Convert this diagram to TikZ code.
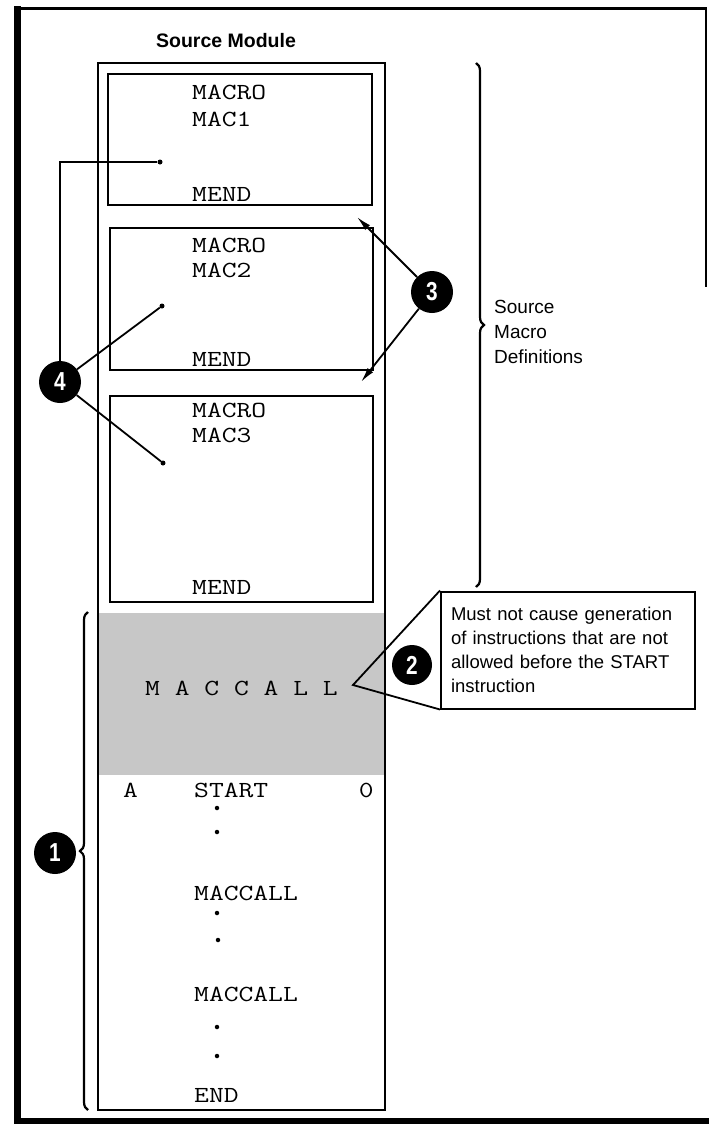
\documentclass[tikz,border=0pt]{standalone}
\usepackage{fontspec}
\usepackage{graphicx}
\usetikzlibrary{arrows.meta,decorations.pathreplacing}
\newfontfamily\labelfont{Liberation Sans}
\newcommand{\code}[1]{\scalebox{1.25}[1]{#1}}
\newcommand{\ballno}[1]{\scalebox{0.8}[1]{#1}}

\begin{document}
\begin{tikzpicture}[x=1pt,y=-1pt,>={Latex[length=15pt,width=7pt]},
  macbox/.style={draw,line width=2.5pt,inner sep=0pt},
  code/.style={anchor=base west,inner sep=0pt,font=\ttfamily\fontsize{23}{23}\selectfont},
  numball/.style={circle,fill=black,text=white,minimum size=42pt,inner sep=0pt,
    font=\labelfont\bfseries\fontsize{26}{26}\selectfont},
  conn/.style={line width=1.8pt},
  bullet/.style={circle,fill=black,inner sep=0pt,minimum size=5pt},
  callout/.style={draw,line width=2pt,minimum width=254pt,minimum height=117pt,
    text width=234pt,inner xsep=10pt,align=left,font=\labelfont\fontsize{18.5}{24}\selectfont}]
\useasboundingbox (0,0) rectangle (709,1127);
% Rahmen der Seite
\draw[line width=7pt] (17,6) -- (17,1124);
\draw[line width=6pt] (14,1121) -- (709,1121);
\draw[line width=3pt] (14,8) -- (706,8);
\draw[line width=2.5pt] (706,7) -- (706,287);
% Titel
\node[font=\labelfont\bfseries\fontsize{19.5}{19.5}\selectfont] (title) at (226,41) {Source Module};
% Quellmodul mit grauem Aufrufbereich
\draw[line width=2.2pt] (98,63) rectangle (385,1110);
\fill[black!22] (99,613) rectangle (384,775);
% Makrodefinitionen
\node[macbox,minimum width=264pt,minimum height=131pt] (box1) at (240,139.5) {};
\node[macbox,minimum width=263pt,minimum height=142pt] (box2) at (241.5,299) {};
\node[macbox,minimum width=263pt,minimum height=206pt] (box3) at (241.5,499) {};
\node[code] (mac1a) at (192,99)  {\code{MACRO}};
\node[code] (mac1b) at (192,126) {\code{MAC1}};
\node[code] (mac1c) at (192,201) {\code{MEND}};
\node[code] (mac2a) at (192,252) {\code{MACRO}};
\node[code] (mac2b) at (192,277) {\code{MAC2}};
\node[code] (mac2c) at (192,366) {\code{MEND}};
\node[code] (mac3a) at (192,417) {\code{MACRO}};
\node[code] (mac3b) at (192,442) {\code{MAC3}};
\node[code] (mac3c) at (192,594) {\code{MEND}};
% Quelltext nach den Definitionen
\node[code] (call0) at (145,695) {\code{M A C C A L L}};
\node[code] (lblA)  at (123,797) {\code{A}};
\node[code] (start) at (194,797) {\code{START}};
\node[code,anchor=base east] (zero) at (374,797) {\code{0}};
\node[code] (call1) at (194,900)  {\code{MACCALL}};
\node[code] (call2) at (194,1001) {\code{MACCALL}};
\node[code] (fin)   at (194,1102) {\code{END}};
\node[bullet,minimum size=4.5pt] (p1) at (217,808) {};
\node[bullet,minimum size=4.5pt] (p2) at (217,832) {};
\node[bullet,minimum size=4.5pt] (p3) at (217,913) {};
\node[bullet,minimum size=4.5pt] (p4) at (218,940) {};
\node[bullet,minimum size=4.5pt] (p5) at (217,1027) {};
\node[bullet,minimum size=4.5pt] (p6) at (217,1056) {};
% Klammern
\draw[line width=2.2pt,decorate,decoration={brace,amplitude=8pt}] (476,63) -- (476,587);
\node[anchor=west,align=left,inner sep=0pt,font=\labelfont\fontsize{19}{25}\selectfont]
  (defs) at (494,332) {Source\\Macro\\Definitions};
\draw[line width=2.2pt,decorate,decoration={brace,amplitude=8pt,aspect=0.52}] (88,1110) -- (88,612);
% Nummern
\node[numball] (n1) at (55,853)  {\ballno{1}};
\node[numball,minimum size=40pt] (n2) at (412,665) {\ballno{2}};
\node[numball] (n3) at (432,292) {\ballno{3}};
\node[numball] (n4) at (60,382)  {\ballno{4}};
% 2: Hinweis zum Makroaufruf
\node[callout] (note) at (568,650) {Must not cause generation of instructions that are not allowed before the START instruction};
\coordinate (callend) at (353,685);
\draw[conn] (note.north west) -- (callend) -- (note.south west);
% 3: Pfeile in die Luecken
\coordinate (gap1) at (357,217);
\coordinate (gap2) at (361,382);
\draw[conn,->] (n3) -- (gap1);
\draw[conn,->] (n3) -- (gap2);
% 4: Verbindungen in die Definitionen
\node[bullet] (d1) at (160,162) {};
\node[bullet] (d2) at (162,306) {};
\node[bullet] (d3) at (163,463) {};
\draw[conn] (d1) -| (n4);
\draw[conn] (d2) -- (n4);
\draw[conn] (d3) -- (n4);
\end{tikzpicture}
\end{document}
